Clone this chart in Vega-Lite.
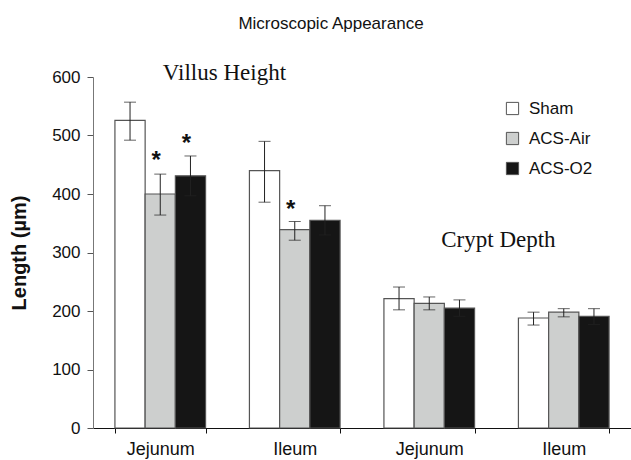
{
  "$schema": "https://vega.github.io/schema/vega-lite/v6.json",
  "width": 538,
  "height": 351,
  "autosize": "none",
  "padding": {"left": 93, "top": 77, "right": 0, "bottom": 32},
  "background": "white",
  "config": {"view": {"stroke": null}, "font": "Liberation Sans"},
  "title": {"text": "Microscopic Appearance", "fontSize": 17, "fontWeight": "normal", "font": "Liberation Sans", "color": "#111", "dx": -31, "offset": 29},
  "data": {"values": [
    {"group": "Jejunum V", "series": "Sham", "value": 526, "low": 492, "high": 557},
    {"group": "Jejunum V", "series": "ACS-Air", "value": 400, "low": 364, "high": 434, "star": "*", "starY": 463},
    {"group": "Jejunum V", "series": "ACS-O2", "value": 431, "low": 397, "high": 465, "star": "*", "starY": 492},
    {"group": "Ileum V", "series": "Sham", "value": 440, "low": 386, "high": 490},
    {"group": "Ileum V", "series": "ACS-Air", "value": 339, "low": 321, "high": 353, "star": "*", "starY": 380},
    {"group": "Ileum V", "series": "ACS-O2", "value": 355, "low": 330, "high": 380},
    {"group": "Jejunum C", "series": "Sham", "value": 221, "low": 202, "high": 241},
    {"group": "Jejunum C", "series": "ACS-Air", "value": 213, "low": 202, "high": 224},
    {"group": "Jejunum C", "series": "ACS-O2", "value": 205, "low": 191, "high": 219},
    {"group": "Ileum C", "series": "Sham", "value": 188, "low": 176, "high": 198},
    {"group": "Ileum C", "series": "ACS-Air", "value": 198, "low": 190, "high": 204},
    {"group": "Ileum C", "series": "ACS-O2", "value": 191, "low": 177, "high": 204}
  ]},
  "encoding": {
    "x": {"field": "group", "type": "nominal", "sort": ["Jejunum V", "Ileum V", "Jejunum C", "Ileum C"],
      "scale": {"paddingInner": 0.326, "paddingOuter": 0.163},
      "axis": {"title": null, "labelAngle": 0, "labelExpr": "isValid(datum.value) ? split(datum.value, ' ')[0] : ''", "tickBand": "extent",
        "domainColor": "#111", "tickColor": "#111", "tickSize": 5, "labelFontSize": 18, "labelColor": "#111", "labelPadding": 7, "labelFont": "Liberation Sans"}},
    "xOffset": {"field": "series", "type": "nominal", "sort": ["Sham", "ACS-Air", "ACS-O2"], "scale": {"paddingInner": 0, "paddingOuter": 0}}
  },
  "layer": [
    {
      "mark": {"type": "bar", "stroke": "#555", "strokeWidth": 1.2},
      "encoding": {
        "y": {"field": "value", "type": "quantitative", "scale": {"domain": [0, 600]},
          "axis": {"title": "Length (µm)", "titleFontSize": 20, "titleFontWeight": "bold", "titleColor": "#111", "titlePadding": 22, "titleFont": "Liberation Sans",
            "grid": false, "values": [0, 100, 200, 300, 400, 500, 600], "domainColor": "#777", "tickColor": "#555", "tickSize": 6, "labelFontSize": 17, "labelColor": "#111", "labelPadding": 7, "labelFont": "Liberation Sans"}},
        "fill": {"field": "series", "type": "nominal", "sort": ["Sham", "ACS-Air", "ACS-O2"],
          "scale": {"domain": ["Sham", "ACS-Air", "ACS-O2"], "range": ["#ffffff", "#cdcfce", "#151515"]},
          "legend": {"title": null, "orient": "none", "legendX": 411, "legendY": 23, "symbolType": "square", "symbolSize": 150,
            "symbolStrokeColor": "#555", "symbolStrokeWidth": 1, "labelFontSize": 17, "labelColor": "#111", "rowPadding": 12, "labelOffset": 8, "padding": 0, "labelFont": "Liberation Sans"}}
      }
    },
    {
      "mark": {"type": "rule", "color": "#222", "strokeWidth": 1},
      "encoding": {"y": {"field": "low", "type": "quantitative"}, "y2": {"field": "high"}}
    },
    {
      "mark": {"type": "tick", "color": "#222", "thickness": 1, "size": 12},
      "encoding": {"y": {"field": "low", "type": "quantitative"}}
    },
    {
      "mark": {"type": "tick", "color": "#222", "thickness": 1, "size": 12},
      "encoding": {"y": {"field": "high", "type": "quantitative"}}
    },
    {
      "transform": [{"filter": "datum.star"}],
      "mark": {"type": "text", "fontSize": 24, "fontWeight": "bold", "color": "#111", "dx": -4, "dy": 4, "baseline": "middle", "font": "Liberation Sans"},
      "encoding": {"y": {"field": "starY", "type": "quantitative"}, "text": {"field": "star"}}
    },
    {
      "data": {"values": [
        {"label": "Villus Height", "group": "Ileum V", "pos": 606}
      ]},
      "mark": {"type": "text", "font": "Liberation Serif", "fontSize": 23, "color": "#111", "baseline": "middle", "dx": -25},
      "encoding": {
        "x": {"field": "group", "type": "nominal", "bandPosition": 0},
        "xOffset": null,
        "y": {"field": "pos", "type": "quantitative"},
        "text": {"field": "label"}
      }
    },
    {
      "data": {"values": [
        {"label": "Crypt Depth", "group": "Ileum C", "pos": 321}
      ]},
      "mark": {"type": "text", "font": "Liberation Serif", "fontSize": 23, "color": "#111", "baseline": "middle", "dx": -20},
      "encoding": {
        "x": {"field": "group", "type": "nominal", "bandPosition": 0},
        "xOffset": null,
        "y": {"field": "pos", "type": "quantitative"},
        "text": {"field": "label"}
      }
    }
  ]
}
